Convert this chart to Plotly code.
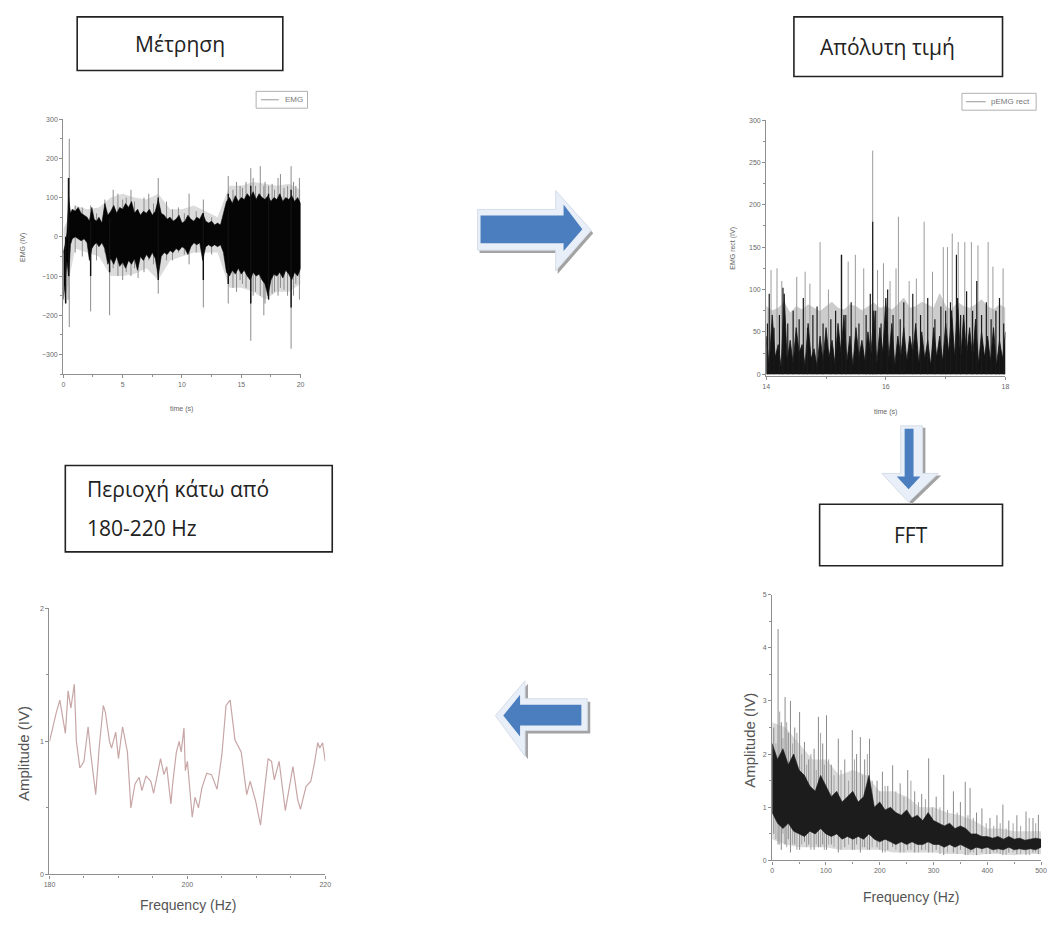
import plotly.graph_objects as go

W, H = 1053, 926

# ---------------- DATA ----------------
# Panel 1: raw EMG (time s, EMG) - dense core envelope
emg_t = [0, 0.15, 0.3, 0.45, 0.6, 0.75, 1.0, 1.25, 1.5, 1.75, 2.0, 2.2, 2.4, 2.6, 2.8, 3.0, 3.25, 3.5, 3.75,
         4.0, 4.25, 4.5, 4.75, 5.0, 5.25, 5.5, 5.75, 6.0, 6.25, 6.5, 6.75, 7.0, 7.25, 7.5, 7.75, 8.0, 8.25,
         8.5, 8.75, 9.0, 9.25, 9.5, 9.75, 10.0, 10.25, 10.5, 10.75, 11.0, 11.25, 11.5, 11.75, 12.0, 12.25,
         12.5, 12.75, 13.0, 13.25, 13.5, 13.75, 14.0, 14.25, 14.5, 14.75, 15.0, 15.25, 15.5, 15.75, 16.0,
         16.25, 16.5, 16.75, 17.0, 17.25, 17.5, 17.75, 18.0, 18.25, 18.5, 18.75, 19.0, 19.25, 19.5, 19.75, 20.0]
emg_hi = [-40, -20, 10, 100, 60, 70, 65, 75, 60, 55, 50, 40, 75, 45, 40, 50, 35, 85, 55,
          65, 80, 60, 75, 70, 85, 75, 90, 60, 70, 55, 65, 60, 70, 55, 65, 95, 60,
          55, 45, 50, 40, 45, 55, 35, 40, 55, 45, 40, 50, 45, 60, 40, 35,
          40, 30, 35, 30, 60, 90, 100, 85, 105, 90, 100, 95, 110, 100, 115,
          95, 110, 100, 95, 105, 90, 100, 95, 110, 90, 100, 95, 105, 90, 100, 85]
emg_lo = [-160, -120, -60, -100, -20, -5, 0, -5, -10, -5, -15, -60, -30, -20, -15, -25, -15, -30, -70,
          -55, -70, -50, -75, -65, -80, -60, -70, -55, -85, -50, -60, -45, -55, -40, -55, -100, -50,
          -40, -45, -35, -40, -30, -35, -25, -30, -45, -25, -15, -20, -15, -60, -25, -20,
          -25, -20, -25, -20, -40, -90, -100, -85, -95, -80, -95, -85, -100, -110, -90,
          -100, -95, -110, -120, -150, -110, -95, -100, -90, -105, -85, -95, -110, -90, -100, -80]
# gray haze around the core
emg_hz_t = [0, 1, 2, 3, 4, 5, 6, 7, 8, 9, 10, 11, 12, 13, 14, 15, 16, 17, 18, 19, 20]
emg_hz_hi = [20, 80, 70, 75, 100, 110, 100, 95, 110, 70, 70, 80, 65, 50, 130, 130, 140, 135, 130, 135, 120]
emg_hz_lo = [-180, -30, -40, -50, -100, -100, -95, -80, -110, -60, -50, -40, -40, -40, -130, -130, -140, -160,
             -140, -140, -120]
# light (gray) spikes
emg_sp_t = [0.4, 0.5, 2.3, 3.5, 3.9, 4.2, 5.3, 5.7, 6.3, 7.2, 8.0, 8.7, 9.7, 10.6, 11.8, 13.9, 14.3, 14.9,
            15.4, 15.8, 16.2, 16.6, 17.0, 17.3, 17.8, 18.3, 18.9, 19.2, 19.6, 19.9,
            1.0, 1.6, 2.8, 4.6, 5.0, 6.0, 6.8, 7.6, 9.2, 10.2, 11.2, 12.5, 14.6, 15.1, 16.0, 16.9, 17.6,
            18.1, 18.6, 19.4]
emg_sp_hi = [150, 250, 80, 95, 60, 120, 100, 120, 70, 110, 150, 90, 75, 110, 95, 155, 120, 130,
             140, 175, 130, 180, 140, 130, 120, 160, 130, 180, 130, 150,
             80, 75, 60, 110, 95, 90, 100, 85, 70, 60, 65, 50, 140, 125, 150, 130, 135,
             150, 125, 140]
emg_sp_lo = [-160, -230, -190, -40, -200, -80, -90, -100, -105, -60, -145, -60, -40, -70, -180, -170, -130, -110,
             -130, -265, -140, -150, -170, -160, -140, -130, -150, -285, -120, -160,
             -40, -50, -60, -100, -110, -80, -90, -70, -60, -45, -40, -45, -140, -120, -150, -200, -145,
             -150, -135, -150]
# dark spikes
emg_bk_t = [0.2, 0.45, 2.3, 3.9, 8.0, 11.8, 13.9, 15.8, 17.3, 19.2]
emg_bk_hi = [0, 150, 40, 50, 100, 60, 110, 130, 110, 120]
emg_bk_lo = [-170, -100, -100, -90, -110, -110, -120, -170, -160, -180]

# Panel 2: rectified EMG, 14-18 s
rect_t = [14.0, 14.1, 14.2, 14.3, 14.4, 14.5, 14.6, 14.7, 14.8, 14.9, 15.0, 15.1, 15.2, 15.3, 15.4, 15.5,
          15.6, 15.7, 15.8, 15.9, 16.0, 16.1, 16.2, 16.3, 16.4, 16.5, 16.6, 16.7, 16.8, 16.9, 17.0, 17.1,
          17.2, 17.3, 17.4, 17.5, 17.6, 17.7, 17.8, 17.9, 18.0]
rect_hi = [45, 70, 35, 95, 40, 55, 35, 60, 30, 45, 55, 40, 60, 70, 45, 55, 40, 50, 75, 55,
           90, 60, 45, 55, 45, 60, 50, 40, 55, 45, 60, 75, 90, 70, 55, 65, 50, 45, 55, 40, 50]
rect_lo = [10, 20, 8, 15, 12, 25, 10, 18, 8, 15, 20, 12, 25, 15, 10, 20, 15, 22, 12, 25,
           18, 10, 20, 15, 25, 12, 18, 10, 20, 15, 25, 20, 15, 22, 18, 12, 20, 15, 10, 18]
rect_haze = [80, 75, 78, 85, 72, 80, 76, 82, 78, 74, 80, 85, 78, 76, 82, 80, 75, 79, 84, 78,
             80, 76, 82, 90, 78, 80, 85, 82, 78, 95, 80, 76, 85, 80, 78, 82, 88, 80, 76, 82, 78]
rect_sp_t = [14.08, 14.18, 14.26, 14.51, 14.65, 14.73, 14.90, 15.04, 15.25, 15.37, 15.49, 15.63, 15.78,
             15.86, 15.96, 16.07, 16.17, 16.21, 16.39, 16.51, 16.64, 16.78, 16.96, 17.03, 17.11, 17.21,
             17.32, 17.43, 17.54, 17.71, 17.79, 17.96]
rect_sp_v = [123, 125, 110, 115, 121, 107, 156, 100, 141, 133, 141, 125, 264,
             123, 131, 110, 125, 186, 110, 113, 180, 121, 150, 150, 166, 156,
             156, 156, 152, 156, 127, 125]
rect_bk_t = [14.02, 14.05, 14.13, 14.22, 14.28, 14.36, 14.45, 14.55, 14.62, 14.69, 14.78, 14.85, 14.95,
             15.08, 15.16, 15.26, 15.33, 15.42, 15.55, 15.67, 15.74, 15.78, 15.83, 15.92, 16.03, 16.12,
             16.24, 16.3, 16.45, 16.58, 16.7, 16.82, 16.92, 17.0, 17.08, 17.18, 17.25, 17.35, 17.45,
             17.52, 17.6, 17.68, 17.76, 17.84, 17.9, 17.97]
rect_bk_v = [60, 95, 55, 70, 102, 60, 75, 65, 90, 55, 70, 80, 60,
             65, 75, 141, 70, 85, 60, 70, 95, 180, 75, 60, 100, 70,
             65, 85, 95, 70, 90, 65, 80, 75, 85, 141, 70, 98, 75,
             110, 70, 85, 65, 75, 90, 60]

# Panel 3: amplitude spectrum 180-220 Hz
f3 = [180.0, 180.5, 181.0, 181.5, 182.0, 182.3, 182.7, 183.1, 183.6, 183.9, 184.4, 185.0, 185.6, 186.0,
      186.7, 187.2, 187.8, 188.1, 188.7, 189.0, 189.6, 190.0, 190.6, 191.3, 191.8, 192.4, 193.0, 193.4,
      194.0, 194.7, 195.1, 195.6, 196.1, 196.6, 197.0, 197.6, 197.9, 198.4, 198.8, 199.1, 199.5, 199.7,
      200.0, 200.7, 201.1, 201.6, 202.1, 202.8, 203.5, 204.3, 205.0, 205.6, 206.2, 206.9, 207.8, 208.6,
      209.1, 209.9, 210.6, 211.7, 212.2, 212.6, 213.3, 214.2, 215.3, 216.0, 216.4, 217.2, 217.9, 218.4,
      218.9, 219.2, 219.6, 220.0]
a3 = [1.0, 1.12, 1.22, 1.31, 1.15, 1.06, 1.38, 1.25, 1.43, 1.0, 0.80, 0.85, 1.11, 0.90,
      0.60, 0.95, 1.27, 1.22, 1.0, 0.95, 1.07, 0.87, 1.11, 0.92, 0.50, 0.68, 0.73, 0.63,
      0.74, 0.70, 0.61, 0.74, 0.87, 0.75, 0.81, 0.53, 0.70, 0.92, 1.0, 0.92, 1.10, 0.78,
      0.85, 0.43, 0.58, 0.50, 0.65, 0.76, 0.75, 0.64, 0.90, 1.27, 1.31, 1.01, 0.92, 0.60,
      0.70, 0.55, 0.37, 0.87, 0.85, 0.71, 0.85, 0.48, 0.81, 0.56, 0.49, 0.66, 0.70, 0.83,
      0.99, 0.95, 0.99, 0.85]

# Panel 4: FFT 0-500 Hz
fft_f = [0, 10, 20, 30, 40, 50, 60, 70, 80, 90, 100, 110, 120, 130, 140, 150, 160, 170, 180, 190, 200,
         210, 220, 230, 240, 250, 260, 270, 280, 290, 300, 310, 320, 330, 340, 350, 360, 370, 380, 390,
         400, 410, 420, 430, 440, 450, 460, 470, 480, 490, 500]
fft_hi = [2.2, 1.9, 2.1, 1.8, 2.0, 1.7, 1.6, 1.4, 1.3, 1.6, 1.4, 1.2, 1.3, 1.1, 1.2, 1.3, 1.1, 1.2, 1.6, 1.0,
          1.1, 0.95, 1.0, 0.9, 0.85, 0.95, 0.8, 0.85, 0.75, 0.9, 0.75, 0.7, 0.65, 0.7, 0.6, 0.65, 0.6, 0.5,
          0.5, 0.45, 0.45, 0.42, 0.45, 0.4, 0.45, 0.4, 0.42, 0.38, 0.4, 0.42, 0.4]
fft_lo = [0.9, 0.7, 0.6, 0.7, 0.55, 0.5, 0.45, 0.55, 0.5, 0.6, 0.5, 0.45, 0.5, 0.4, 0.45, 0.4, 0.45, 0.4,
          0.5, 0.4, 0.35, 0.4, 0.35, 0.3, 0.35, 0.3, 0.35, 0.3, 0.3, 0.35, 0.3, 0.3, 0.25, 0.3, 0.25, 0.3,
          0.25, 0.2, 0.25, 0.22, 0.25, 0.2, 0.22, 0.2, 0.25, 0.2, 0.22, 0.2, 0.22, 0.2, 0.25]
fft_hz_f = [0, 25, 50, 75, 100, 125, 150, 175, 200, 225, 250, 275, 300, 325, 350, 375, 400, 425, 450, 475, 500]
fft_hz_hi = [2.6, 2.5, 2.2, 1.9, 1.9, 1.6, 1.7, 1.6, 1.3, 1.3, 1.2, 1.0, 1.0, 0.9, 0.85, 0.75, 0.6, 0.6,
             0.55, 0.55, 0.55]
fft_hz_lo = [0.4, 0.3, 0.25, 0.25, 0.25, 0.2, 0.2, 0.2, 0.2, 0.15, 0.15, 0.15, 0.15, 0.12, 0.12, 0.1, 0.12,
             0.12, 0.1, 0.12, 0.12]
fft_sp_f = [3, 11, 17, 24, 30, 34, 42, 51, 60, 68, 78, 86, 94, 101, 110, 123, 135, 149, 157, 164,
            172, 181, 195, 205, 215, 224, 238, 252, 265, 278, 291, 305, 319, 337, 350, 359, 368, 380,
            390, 405, 418, 429, 440, 455, 472, 485, 495]
fft_sp_hi = [2.5, 4.35, 2.6, 3.07, 2.4, 3.0, 2.5, 2.79, 2.23, 1.9, 2.1, 2.7, 2.2, 2.73, 1.8, 2.29, 1.9,
             2.45, 2.0, 2.32, 1.9, 2.29, 1.5, 1.67, 1.4, 1.79, 1.45, 1.7, 1.3, 1.25, 1.92, 1.2, 1.61,
             1.3, 1.1, 1.48, 1.36, 0.9, 0.98, 0.8, 0.85, 1.05, 0.75, 0.85, 0.92, 0.8, 0.86]
fft_sp_lo = [0.5, 0.3, 0.2, 0.3, 0.4, 0.15, 0.3, 0.2, 0.35, 0.3, 0.2, 0.25, 0.3, 0.2, 0.3, 0.15, 0.25,
             0.2, 0.3, 0.15, 0.25, 0.2, 0.25, 0.15, 0.2, 0.25, 0.15, 0.2, 0.15, 0.2, 0.15, 0.2, 0.1,
             0.15, 0.2, 0.1, 0.15, 0.1, 0.15, 0.12, 0.15, 0.1, 0.15, 0.12, 0.1, 0.15, 0.12]
fft_sp2_f = [7, 14, 20, 27, 38, 46, 55, 64, 72, 82, 90, 97, 105, 115, 128, 142, 153, 168, 177, 186,
             200, 210, 230, 245, 258, 272, 285, 298, 312, 326, 344, 364, 374, 398, 412, 424, 435, 448,
             462, 478, 490]
fft_sp2_hi = [2.2, 2.8, 2.3, 2.6, 2.2, 2.4, 2.0, 1.8, 2.0, 1.7, 2.4, 1.8, 1.9, 1.6, 1.7, 1.5, 1.9, 1.6,
              2.0, 1.5, 1.3, 1.4, 1.3, 1.2, 1.5, 1.1, 1.15, 1.0, 1.0, 0.95, 0.9, 0.85, 0.8, 0.7, 0.65,
              0.7, 0.6, 0.7, 0.65, 0.8, 0.7]
fft_sp2_lo = [0.4, 0.3, 0.5, 0.25, 0.3, 0.2, 0.3, 0.25, 0.2, 0.3, 0.25, 0.2, 0.3, 0.25, 0.2, 0.3, 0.2,
              0.25, 0.2, 0.25, 0.2, 0.15, 0.2, 0.15, 0.2, 0.15, 0.2, 0.15, 0.12, 0.15, 0.12, 0.1, 0.15,
              0.12, 0.15, 0.12, 0.1, 0.15, 0.12, 0.1, 0.15]

# ---------------- helpers ----------------
def segs(xs, his, los):
    X, Y = [], []
    for x, h, l in zip(xs, his, los):
        X += [x, x, None]
        Y += [l, h, None]
    return X, Y

def band(xs, his, los):
    return list(xs) + list(xs)[::-1], list(his) + list(los)[::-1]

def P(x, y):
    return f"{x / W:.5f},{1 - y / H:.5f}"

def path(points):
    return "M " + " L ".join(P(x, y) for x, y in points) + " Z"

def dx(a, b):
    return [a / W, b / W]

def dy(top, bottom):
    return [1 - bottom / H, 1 - top / H]

fig = go.Figure()

# Panel 1
x, y = band(emg_hz_t, emg_hz_hi, emg_hz_lo)
fig.add_trace(go.Scatter(x=x, y=y, mode="lines", fill="toself", fillcolor="#dcdcdc",
                         line=dict(width=0), xaxis="x", yaxis="y"))
x, y = segs(emg_sp_t, emg_sp_hi, emg_sp_lo)
fig.add_trace(go.Scatter(x=x, y=y, mode="lines", line=dict(color="#8c8c8c", width=1), xaxis="x", yaxis="y"))
x, y = band(emg_t, emg_hi, emg_lo)
fig.add_trace(go.Scatter(x=x, y=y, mode="lines", fill="toself", fillcolor="#050505",
                         line=dict(color="#050505", width=0.6), xaxis="x", yaxis="y"))
x, y = segs(emg_bk_t, emg_bk_hi, emg_bk_lo)
fig.add_trace(go.Scatter(x=x, y=y, mode="lines", line=dict(color="#111", width=1.4), xaxis="x", yaxis="y"))

# Panel 2
fig.add_trace(go.Scatter(x=rect_t, y=rect_haze, mode="lines", fill="tozeroy", fillcolor="#cccccc",
                         line=dict(color="#bdbdbd", width=0.5), xaxis="x2", yaxis="y2"))
x, y = segs(rect_sp_t, rect_sp_v, [0] * len(rect_sp_v))
fig.add_trace(go.Scatter(x=x, y=y, mode="lines", line=dict(color="#9a9a9a", width=1), xaxis="x2", yaxis="y2"))
zx, zy = [], []
for i in range(len(rect_t)):
    zx.append(rect_t[i]); zy.append(rect_hi[i])
    if i < len(rect_lo):
        zx.append((rect_t[i] + rect_t[i + 1]) / 2); zy.append(rect_lo[i])
fig.add_trace(go.Scatter(x=zx, y=zy, mode="lines", fill="tozeroy", fillcolor="#141414",
                         line=dict(color="#141414", width=0.8), xaxis="x2", yaxis="y2"))
x, y = segs(rect_bk_t, rect_bk_v, [0] * len(rect_bk_v))
fig.add_trace(go.Scatter(x=x, y=y, mode="lines", line=dict(color="#1a1a1a", width=1.2), xaxis="x2", yaxis="y2"))

# Panel 3
fig.add_trace(go.Scatter(x=f3, y=a3, mode="lines", line=dict(color="#c8a6a6", width=1.2), xaxis="x3", yaxis="y3"))

# Panel 4
x, y = band(fft_hz_f, fft_hz_hi, fft_hz_lo)
fig.add_trace(go.Scatter(x=x, y=y, mode="lines", fill="toself", fillcolor="#dadada",
                         line=dict(width=0), xaxis="x4", yaxis="y4"))
x, y = segs(fft_sp2_f, fft_sp2_hi, fft_sp2_lo)
fig.add_trace(go.Scatter(x=x, y=y, mode="lines", line=dict(color="#a5a5a5", width=1), xaxis="x4", yaxis="y4"))
x, y = segs(fft_sp_f, fft_sp_hi, fft_sp_lo)
fig.add_trace(go.Scatter(x=x, y=y, mode="lines", line=dict(color="#8a8a8a", width=1), xaxis="x4", yaxis="y4"))
x, y = band(fft_f, fft_hi, fft_lo)
fig.add_trace(go.Scatter(x=x, y=y, mode="lines", fill="toself", fillcolor="#1c1c1c",
                         line=dict(color="#1c1c1c", width=0.6), xaxis="x4", yaxis="y4"))

# ---------------- axes ----------------
AX = "#8f8f8f"
TF = dict(size=7, color="#6a6a6a", family="Liberation Sans")

def axis(domain, rng, dtick, mdtick, anchor):
    return dict(domain=domain, range=rng, anchor=anchor, showgrid=False, zeroline=False,
                showline=True, linecolor=AX, linewidth=1.3, ticks="outside", ticklen=3,
                tickcolor=AX, tickwidth=1, tickfont=TF, dtick=dtick, tick0=0,
                minor=dict(ticks="outside", ticklen=2, dtick=mdtick, tickcolor=AX, showgrid=False))

fig.update_layout(
    xaxis=axis(dx(58, 298), [0, 20], 5, 2.5, "y"),
    yaxis=axis(dy(116, 373), [-350, 300], 100, 50, "x"),
    xaxis2=axis(dx(769, 1011), [14, 18], 2, 1, "y2"),
    yaxis2=axis(dy(117, 375), [-2.3, 300], 50, 25, "x2"),
    xaxis3=axis(dx(44, 323), [180, 220], 20, 5, "y3"),
    yaxis3=axis(dy(609, 877), [0, 2], 1, 0.5, "x3"),
    xaxis4=axis(dx(775, 1047), [0, 500], 100, 50, "y4"),
    yaxis4=axis(dy(595, 863), [0, 5], 1, 0.5, "x4"),
)

# ---------------- shapes ----------------
shapes = []
def rect(x0, y0, x1, y1, color="#222", width=1.6):
    shapes.append(dict(type="rect", xref="paper", yref="paper", x0=x0 / W, x1=x1 / W,
                       y0=1 - y1 / H, y1=1 - y0 / H, line=dict(color=color, width=width),
                       fillcolor="rgba(0,0,0,0)", layer="above"))

def poly(points, fill, line="rgba(0,0,0,0)", lw=0):
    shapes.append(dict(type="path", xref="paper", yref="paper", path=path(points),
                       fillcolor=fill, line=dict(color=line, width=lw), layer="above"))

def shift(points, ox, oy):
    return [(a + ox, b + oy) for a, b in points]

# text boxes
rect(72, 13, 280, 67)
rect(797, 13, 1008, 73)
rect(60, 465, 330, 552)
rect(823, 504, 1008, 566)

# legend boxes
rect(253, 88, 305, 105, color="#b0b0b0", width=1)
shapes.append(dict(type="line", xref="paper", yref="paper", x0=258 / W, x1=276 / W,
                   y0=1 - 96.5 / H, y1=1 - 96.5 / H, line=dict(color="#999", width=1)))
rect(967, 90, 1042, 107, color="#b0b0b0", width=1)
shapes.append(dict(type="line", xref="paper", yref="paper", x0=971 / W, x1=991 / W,
                   y0=1 - 98.5 / H, y1=1 - 98.5 / H, line=dict(color="#999", width=1)))

BLUE = "#4a7ebf"
OUT = "#e9eff8"
SH = "#a3a3a3"
# right arrow
r_out = [(477, 207), (556, 207), (556, 188), (592, 228), (556, 269), (556, 248), (477, 248)]
r_in = [(480, 213), (564, 213), (564, 202), (583, 227), (564, 249), (564, 241), (480, 241)]
poly(shift(r_out, 2, 3), SH)
poly(r_out, OUT, "#d6dde8", 1)
poly(r_in, BLUE)
# left arrow
l_out = [(588, 700), (525, 700), (525, 682), (495, 717), (525, 758), (525, 732), (588, 732)]
l_in = [(582, 706), (520, 706), (520, 696), (503, 717), (520, 738), (520, 727), (582, 727)]
poly(shift(l_out, 3, 3), SH)
poly(l_out, OUT, "#d6dde8", 1)
poly(l_in, BLUE)
# down arrow
d_out = [(905, 425), (927, 425), (927, 473), (943, 473), (913, 502), (886, 473), (905, 473)]
d_in = [(909, 428), (918, 428), (918, 476), (925, 476), (913, 489), (901, 476), (909, 476)]
poly(shift(d_out, 3, 2), SH)
poly(d_out, OUT, "#d6dde8", 1)
poly(d_in, BLUE)

fig.update_layout(shapes=shapes)

# ---------------- annotations ----------------
ann = []
def text(x, y, s, size=21, color="#222", family="Open Sans", angle=0, xanchor="center"):
    ann.append(dict(x=x / W, y=1 - y / H, xref="paper", yref="paper", text=s, showarrow=False,
                    font=dict(size=size, color=color, family=family), textangle=angle,
                    xanchor=xanchor, yanchor="middle"))

text(176, 40, "Μέτρηση")
text(892, 43, "Απόλυτη τιμή")
text(80, 489, "Περιοχή κάτω από", xanchor="left")
text(80, 528, "180-220 Hz", xanchor="left")
text(915, 535, "FFT")

# legends
text(280, 96.5, "EMG", size=8, color="#777", family="Liberation Sans", xanchor="left")
text(994, 98.5, "pEMG rect", size=8, color="#777", family="Liberation Sans", xanchor="left")

# axis titles
text(17, 245, "EMG (IV)", size=7, color="#666", family="Liberation Sans", angle=-90)
text(178, 408, "time (s)", size=7, color="#666", family="Liberation Sans")
text(736, 246, "EMG rect (IV)", size=7, color="#666", family="Liberation Sans", angle=-90)
text(890, 411, "time (s)", size=7, color="#666", family="Liberation Sans")
text(17, 755, "Amplitude (IV)", size=15, color="#555", family="Liberation Sans", angle=-90)
text(184, 908, "Frequency (Hz)", size=14, color="#555", family="Liberation Sans")
text(752, 742, "Amplitude (IV)", size=15, color="#555", family="Liberation Sans", angle=-90)
text(915, 900, "Frequency (Hz)", size=14, color="#555", family="Liberation Sans")

fig.update_layout(annotations=ann, width=W, height=H, margin=dict(l=0, r=0, t=0, b=0),
                  paper_bgcolor="white", plot_bgcolor="white", showlegend=False)

fig.write_html(
    "out.html",
    config={"displayModeBar": False},
    post_script=(
        "document.documentElement.style.overflow='hidden';"
        "document.body.style.margin='0';document.body.style.overflow='hidden';"
        "var g=document.getElementById('{plot_id}');"
        "g.style.position='fixed';g.style.left='0px';g.style.top='0px';"
    ),
)
